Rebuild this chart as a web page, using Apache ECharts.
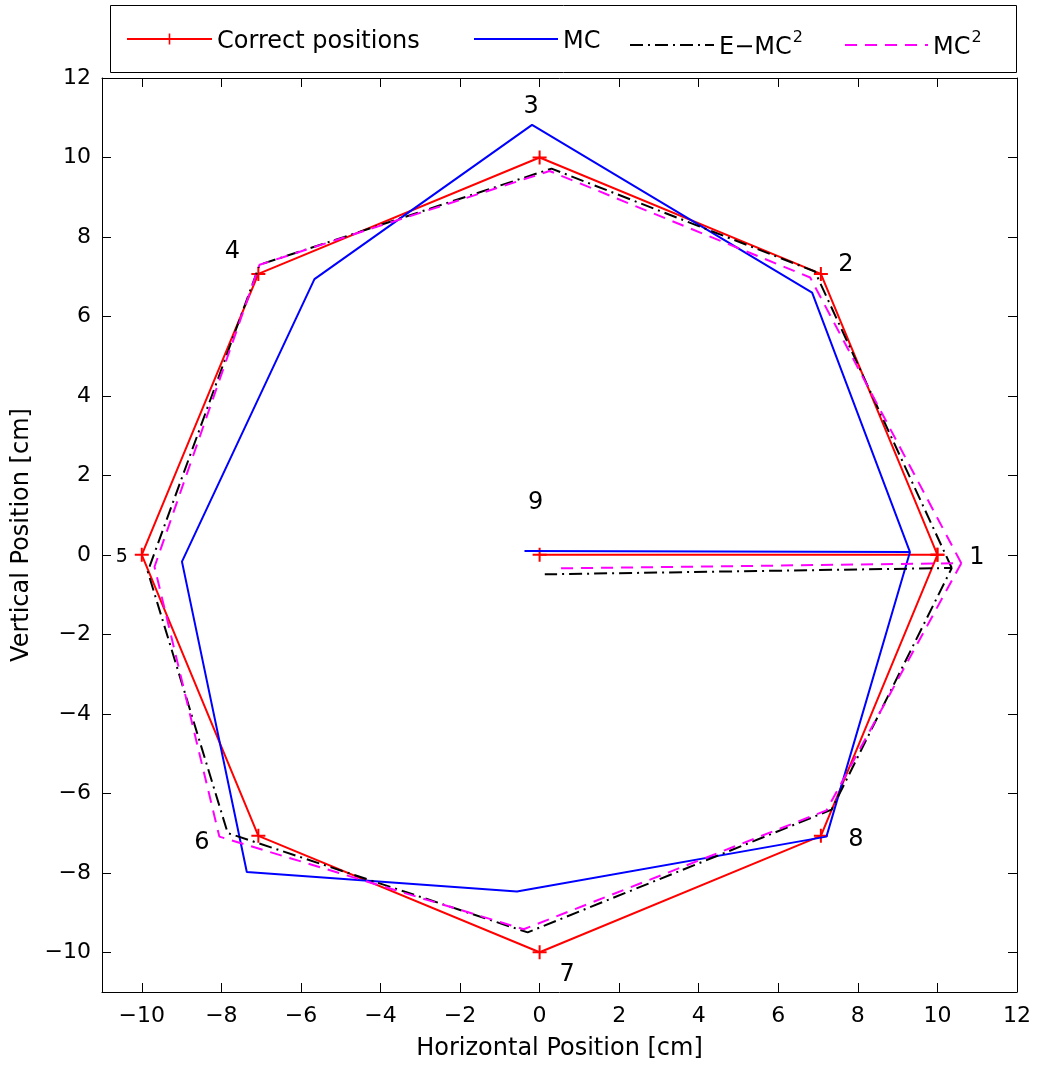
<!DOCTYPE html>
<html>
<head>
<meta charset="utf-8">
<script src="https://cdn.jsdelivr.net/npm/echarts@6/dist/echarts.min.js"></script>
<style>
html,body{margin:0;padding:0;background:#fff;}
#c{width:1038px;height:1066px;}
</style>
</head>
<body>
<div id="c"></div>
<script>
// ---- data ----
var seriesNames = ['Correct positions', 'MC', 'E\u2212MC2', 'MC2'];

var correctX = [10, 7.07, 0, -7.07, -10, -7.07, 0, 7.07, 10, 0];
var correctY = [0, 7.07, 10, 7.07, 0, -7.07, -10, -7.07, 0, 0];

var mcX = [9.31, 6.85, -0.19, -5.66, -8.99, -7.36, -0.57, 7.21, 9.31, -0.38];
var mcY = [0.07, 6.6, 10.82, 6.94, -0.17, -7.98, -8.47, -7.09, 0.07, 0.1];

var emcX = [10.36, 6.92, 0.3, -7.04, -9.85, -7.84, -0.3, 7.34, 10.36, 0.13];
var emcY = [-0.33, 7.13, 9.72, 7.3, -0.42, -7.0, -9.5, -6.41, -0.33, -0.49];

var mc2X = [10.6, 6.8, 0.25, -7.04, -9.68, -8.05, -0.4, 7.21, 10.6, 0.48];
var mc2Y = [-0.21, 6.98, 9.66, 7.3, -0.3, -7.09, -9.42, -6.43, -0.21, -0.34];

var pointLabels = ['1', '2', '3', '4', '5', '6', '7', '8', '9'];
var pointLabelX = [10.99, 7.7, -0.21, -7.72, -10.5, -8.49, 0.69, 7.95, -0.1];
var pointLabelY = [-0.08, 7.3, 11.28, 7.63, -0.06, -7.25, -10.57, -7.17, 1.3];

var xTicks = [-10, -8, -6, -4, -2, 0, 2, 4, 6, 8, 10, 12];
var yTicks = [-10, -8, -6, -4, -2, 0, 2, 4, 6, 8, 10, 12];
var xMin = -11, xMax = 12, yMin = -11, yMax = 12;

// ---- helpers ----
function pairs(xs, ys) { return xs.map(function (x, i) { return [x, ys[i]]; }); }
function fmt(v) { return v < 0 ? '\u2212' + Math.abs(v) : String(v); }

var FONT = 'DejaVu Sans';
var plusPath = 'path://M6,0 H8 V6 H14 V8 H8 V14 H6 V8 H0 V6 H6 Z';

function axisBase(isX, main) {
  var ticks = isX ? xTicks : yTicks;
  return {
    type: 'value',
    min: isX ? xMin : yMin,
    max: isX ? xMax : yMax,
    position: isX ? (main ? 'bottom' : 'top') : (main ? 'left' : 'right'),
    axisLine: { show: true, onZero: false, lineStyle: { color: '#000', width: 1 } },
    axisTick: { show: true, inside: true, length: 9, customValues: ticks, lineStyle: { color: '#000', width: 1 } },
    axisLabel: {
      show: main, customValues: ticks, formatter: fmt,
      color: '#000', fontFamily: FONT, fontSize: 22, margin: isX ? 13 : 11
    },
    splitLine: { show: false },
    name: main ? (isX ? 'Horizontal Position [cm]' : 'Vertical Position [cm]') : '',
    nameLocation: 'middle',
    nameGap: isX ? 45 : 51,
    nameTextStyle: { color: '#000', fontFamily: FONT, fontSize: 24 }
  };
}

var lineColors = ['#ff0000', '#0000ff', '#000000', '#ff00ff'];
var lineTypes = ['solid', 'solid', [13, 5, 2, 5], [12, 8]];
var xs = [correctX, mcX, emcX, mc2X];
var ys = [correctY, mcY, emcY, mc2Y];

var series = seriesNames.map(function (name, i) {
  return {
    name: name,
    type: 'line',
    xAxisIndex: 0, yAxisIndex: 0,
    data: pairs(xs[i], ys[i]),
    smooth: false,
    showSymbol: i === 0,
    symbol: i === 0 ? plusPath : 'none',
    symbolSize: 14,
    symbolKeepAspect: true,
    itemStyle: { color: lineColors[i] },
    lineStyle: { color: lineColors[i], width: 2, type: lineTypes[i] },
    emphasis: { disabled: true },
    z: 2 + i
  };
});

series.push({
  name: 'labels',
  type: 'scatter',
  xAxisIndex: 0, yAxisIndex: 0,
  symbolSize: 0,
  silent: true,
  itemStyle: { opacity: 1 },
  data: pointLabels.map(function (t, i) {
    return {
      value: [pointLabelX[i], pointLabelY[i]],
      label: { formatter: t, color: '#000', fontFamily: FONT, fontSize: t === '5' ? 19 : 24 }
    };
  }),
  label: {
    show: true, position: 'inside', color: '#000', fontFamily: FONT, fontSize: 24,
    textBorderWidth: 0
  },
  z: 10
});

function legendFormatter(name) {
  if (name.slice(-1) === '2' && name.indexOf('MC') >= 0) {
    return '{b|' + name.slice(0, -1) + '}{s|2}';
  }
  return '{b|' + name + '}';
}

var legendLeft = [126, 473, 629, 844];
var legendItemWidth = [85, 84, 84, 83];
var legends = seriesNames.map(function (name, i) {
  return {
    data: [name],
    left: legendLeft[i],
    top: 30,
    padding: 0,
    itemWidth: legendItemWidth[i],
    itemHeight: 14,
    selectedMode: false,
    itemStyle: i === 0 ? {} : { opacity: 0 },
    formatter: legendFormatter,
    textStyle: {
      color: '#000', fontFamily: FONT, fontSize: 24,
      rich: {
        b: { color: '#000', fontFamily: FONT, fontSize: 24, lineHeight: 30, verticalAlign: 'bottom' },
        s: { color: '#000', fontFamily: FONT, fontSize: 16, lineHeight: 16, verticalAlign: 'top', padding: [0, 0, 0, 1] }
      }
    }
  };
});

var chart = echarts.init(document.getElementById('c'), null, { renderer: 'canvas' });
chart.setOption({
  animation: false,
  backgroundColor: '#fff',
  grid: { left: 102, right: 21, top: 78, bottom: 73, containLabel: false },
  xAxis: [axisBase(true, true), axisBase(true, false)],
  yAxis: [axisBase(false, true), axisBase(false, false)],
  legend: legends,
  graphic: [{
    type: 'rect',
    shape: { x: 110.5, y: 5.5, width: 906, height: 67 },
    style: { fill: 'none', stroke: '#000', lineWidth: 1 },
    silent: true
  }],
  series: series
});
</script>
</body>
</html>
